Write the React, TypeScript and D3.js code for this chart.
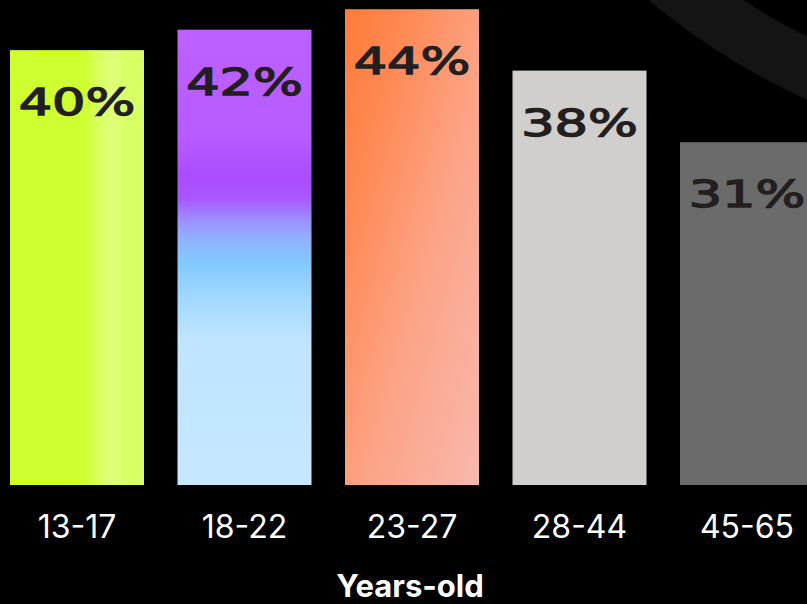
import { useEffect, useRef } from 'react'
import * as d3 from 'd3'

// age groups and share of respondents (%)
const ageGroups = ['13-17', '18-22', '23-27', '28-44', '45-65']
const shares = [40, 42, 44, 38, 31]
const axisTitle = 'Years-old'

// one fill per bar: gradient id or flat colour
const fills = ['url(#g-lime)', 'url(#g-violet)', 'url(#g-orange)', '#d0cfcd', '#6b6b6b']

export default function App() {
  const svgRef = useRef<SVGSVGElement>(null)

  useEffect(() => {
    if (!svgRef.current) return
    const width = 807
    const height = 604
    const baseY = 485

    const svg = d3.select(svgRef.current)
    svg.selectAll('*').remove()
    svg.attr('width', width).attr('height', height)

    svg.append('rect')
      .attr('width', width)
      .attr('height', height)
      .attr('fill', '#000')

    const defs = svg.append('defs')

    const lime = defs.append('linearGradient')
      .attr('id', 'g-lime')
      .attr('x1', 0).attr('y1', 0).attr('x2', 1).attr('y2', 0)
    ;[[0, '#d0ff30'], [0.55, '#cfff30'], [0.68, '#daff66'], [0.76, '#e0ff7a'], [0.86, '#d9ff66'], [1, '#d6ff62']]
      .forEach(([o, c]) => lime.append('stop').attr('offset', o).attr('stop-color', c))

    const violet = defs.append('linearGradient')
      .attr('id', 'g-violet')
      .attr('x1', 0).attr('y1', 0).attr('x2', 0).attr('y2', 1)
    ;[[0, '#bc60ff'], [0.22, '#b95cff'], [0.33, '#aa4cff'], [0.37, '#a858ff'], [0.42, '#9c90ff'],
      [0.46, '#90b2ff'], [0.51, '#82c8ff'], [0.59, '#a2d8ff'], [0.68, '#c0e4ff'], [1, '#c6e8ff']]
      .forEach(([o, c]) => violet.append('stop').attr('offset', o).attr('stop-color', c))

    const orange = defs.append('linearGradient')
      .attr('id', 'g-orange')
      .attr('x1', 0).attr('y1', 0).attr('x2', 1).attr('y2', 1)
    ;[[0, '#ff7b38'], [0.25, '#fe8a56'], [0.55, '#fca284'], [1, '#f8b8ae']]
      .forEach(([o, c]) => orange.append('stop').attr('offset', o).attr('stop-color', c))

    // decorative ring in the corner
    svg.append('path')
      .attr('transform', 'translate(1084,-517)')
      .attr('d', d3.arc()({ innerRadius: 619, outerRadius: 676, startAngle: 0, endAngle: 2 * Math.PI }) as string)
      .attr('fill', '#141414')

    const x = d3.scaleBand()
      .domain(ageGroups)
      .range([10, 814])
      .paddingInner(0.2)
      .paddingOuter(0)

    const y = d3.scaleLinear()
      .domain([-2.5, 44.9])
      .range([baseY, 0])

    const data = ageGroups.map((a, i) => ({ age: a, value: shares[i], fill: fills[i] }))

    svg.selectAll('.bar')
      .data(data)
      .enter().append('rect')
      .attr('class', 'bar')
      .attr('x', d => x(d.age)!)
      .attr('y', d => y(d.value))
      .attr('width', x.bandwidth())
      .attr('height', d => baseY - y(d.value))
      .attr('fill', d => d.fill)

    // value labels, stretched to mimic the extended display face
    svg.selectAll('.value')
      .data(data)
      .enter().append('text')
      .attr('class', 'value')
      .attr('transform', d => `translate(${x(d.age)! + x.bandwidth() / 2},${y(d.value) + 65}) scale(1.38,1)`)
      .attr('text-anchor', 'middle')
      .style('font-family', '"DejaVu Sans", sans-serif')
      .style('font-size', '38px')
      .style('fill', '#231f20')
      .style('stroke', '#231f20')
      .style('stroke-width', 1.4)
      .text(d => `${d.value}%`)

    svg.selectAll('.tick-label')
      .data(ageGroups)
      .enter().append('text')
      .attr('class', 'tick-label')
      .attr('x', d => x(d)! + x.bandwidth() / 2)
      .attr('y', 538)
      .attr('text-anchor', 'middle')
      .style('font-family', 'Inter, sans-serif')
      .style('font-size', '32px')
      .style('fill', '#fff')
      .text(d => d)

    svg.append('text')
      .attr('x', 410)
      .attr('y', 597)
      .attr('text-anchor', 'middle')
      .style('font-family', 'Inter, sans-serif')
      .style('font-weight', 700)
      .style('font-size', '31px')
      .style('fill', '#fff')
      .text(axisTitle)
  }, [])

  return (
    <div style={{ position: 'fixed', left: 0, top: 0, width: 807, height: 604, overflow: 'hidden', background: '#000' }}>
      <svg ref={svgRef} style={{ display: 'block' }} />
    </div>
  )
}
